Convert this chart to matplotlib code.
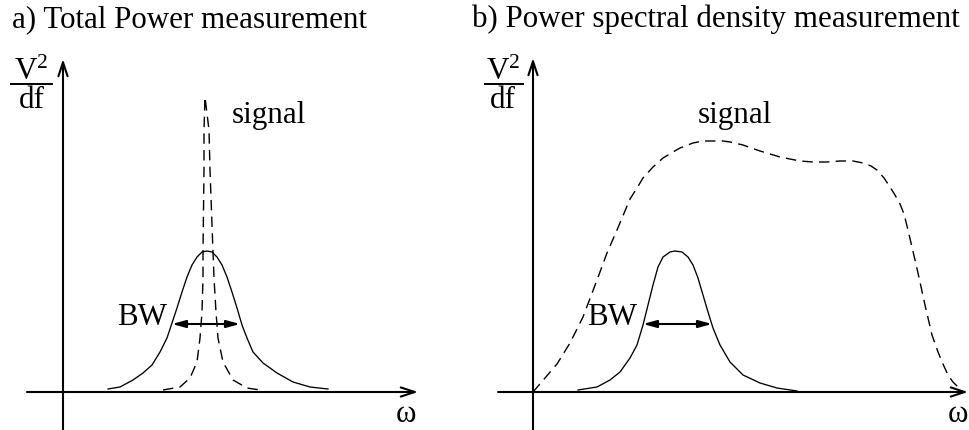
import matplotlib
matplotlib.use("Agg")
import matplotlib.pyplot as plt

plt.rcParams["font.family"] = ["Liberation Serif", "DejaVu Serif"]
plt.rcParams["mathtext.fontset"] = "custom"
plt.rcParams["mathtext.rm"] = "Liberation Serif"
plt.rcParams["mathtext.it"] = "Liberation Serif:italic"

# ---- curves (omega, V^2/df), arbitrary units ----
# a) receiver passband (solid) and narrow line signal (dashed)
filter_a_w = [45, 57, 70, 80, 89, 97, 104, 109, 114, 119, 124, 129, 134, 139,
              144, 149, 154, 159, 164, 169, 174, 179, 184, 190, 200, 214, 230,
              247, 265]
filter_a_s = [3, 5, 12, 19, 27, 40, 54, 69, 84, 100, 115, 127, 135, 140,
              141, 140, 135, 127, 115, 100, 84, 67, 54, 40, 29, 19, 10,
              5, 3]

signal_a_w = [100, 117, 127, 134, 137, 139, 140, 140, 141, 141, 142,
              146, 147, 150, 151, 153, 155, 160, 170, 184, 197]
signal_a_s = [2, 5, 14, 30, 54, 80, 114, 140, 222, 262, 295,
              262, 222, 140, 114, 80, 54, 30, 12, 4, 2]

# b) receiver passband (solid) and broadband signal (dashed)
filter_b_w = [45, 64, 77, 87, 97, 104, 110, 115, 120, 125, 130, 137, 142, 149,
              155, 160, 165, 170, 175, 180, 187, 197, 210, 227, 244, 264]
filter_b_s = [2, 5, 12, 20, 34, 47, 67, 87, 107, 125, 135, 140, 141, 140,
              135, 127, 114, 97, 80, 64, 47, 30, 17, 9, 4, 1]

signal_b_w = [0, 12, 24, 37, 50, 64, 74, 84, 97, 104, 110, 120, 130, 140, 147,
              160, 170, 180, 190, 197, 210, 227, 247, 267, 280, 294, 307, 320,
              330, 338, 344, 351, 357, 362, 367, 371, 374, 379, 385, 392, 399,
              405, 410, 415, 420, 425, 429]
signal_b_s = [0, 14, 28, 49, 75, 112, 139, 162, 193, 204, 214, 225, 234, 240, 244,
              249, 251, 251, 251, 250, 247, 241, 235, 231, 230, 230, 231, 231,
              229, 226, 222, 214, 205, 197, 188, 178, 166, 145, 119, 87, 57,
              40, 28, 17, 10, 5, 2]

# bandwidth markers (start, end, level)
bw_a = (109, 177, 68)
bw_b = (110, 179, 68)

titles = ["a) Total Power measurement", "b) Power spectral density measurement"]

W, H = 969, 430
fig = plt.figure(figsize=(W / 100, H / 100), dpi=100)
FS = 22.3

panels = [
    dict(rect=[0, 0, 484 / W, 1], xlim=(-63, 421), x_axis=(-36, 355), y_top=333,
         frac=(-52, -11), fil=(filter_a_w, filter_a_s), sig=(signal_a_w, signal_a_s),
         bw=bw_a, bw_txt=79, sig_txt=206, omega=343, title_x=12),
    dict(rect=[484 / W, 0, 485 / W, 1], xlim=(-49, 436), x_axis=(-35, 435), y_top=334,
         frac=(-50, -10), fil=(filter_b_w, filter_b_s), sig=(signal_b_w, signal_b_s),
         bw=bw_b, bw_txt=79, sig_txt=202, omega=425, title_x=472),
]

for p, title in zip(panels, titles):
    ax = fig.add_axes(p["rect"])
    ax.set_xlim(*p["xlim"])
    ax.set_ylim(-38, 392)
    ax.axis("off")

    axis_arrow = dict(arrowstyle="->,head_length=1.0,head_width=0.33", lw=1.5,
                      color="black", shrinkA=0, shrinkB=0)
    ax.annotate("", xy=(p["x_axis"][1], 0), xytext=(p["x_axis"][0], 0),
                arrowprops=axis_arrow, annotation_clip=False)
    ax.annotate("", xy=(0, p["y_top"]), xytext=(0, -40),
                arrowprops=axis_arrow, annotation_clip=False)

    ax.plot(*p["fil"], color="black", lw=0.95, solid_joinstyle="round")
    ax.plot(*p["sig"], color="black", lw=1.0, dashes=(7.5, 4.5))

    x0, x1, lvl = p["bw"]
    ax.annotate("", xy=(x1, lvl), xytext=(x0, lvl),
                arrowprops=dict(arrowstyle="<|-|>,head_length=0.8,head_width=0.22",
                                lw=1.5, color="black", shrinkA=0, shrinkB=0))
    ax.text(p["bw_txt"], 67, "BW", fontsize=FS, ha="center", va="baseline")
    ax.text(p["sig_txt"], 269, "signal", fontsize=FS, ha="center", va="baseline")
    ax.text(p["omega"], -30, "ω", fontsize=FS, ha="center", va="baseline",
            clip_on=False)

    # y-axis label as a stacked fraction
    fx0, fx1 = p["frac"]
    xc = (fx0 + fx1) / 2
    ax.text(xc, 312, r"$\mathrm{V}^{2}$", fontsize=FS, ha="center", va="baseline")
    ax.plot([fx0, fx1], [308, 308], color="black", lw=1.4)
    ax.text(xc, 284, "df", fontsize=FS, ha="center", va="baseline")

    fig.text(p["title_x"] / W, 1 - 27 / H, title, fontsize=FS, ha="left",
             va="baseline")

fig.savefig("out.png", dpi=100)
